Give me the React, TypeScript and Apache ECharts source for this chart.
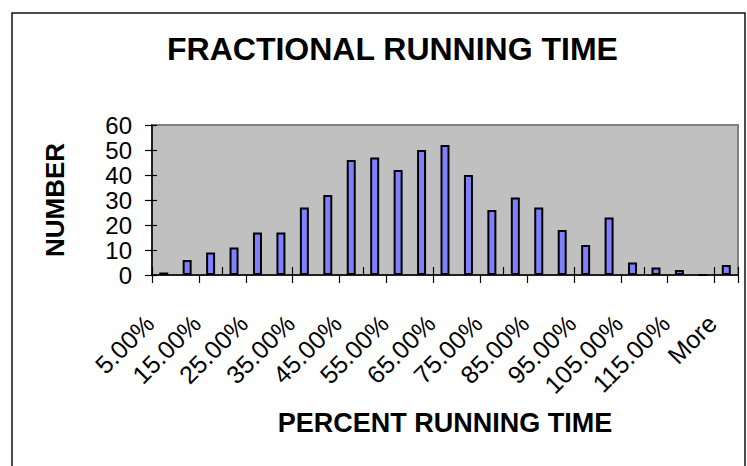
import React, { useEffect, useRef } from "react";
import * as echarts from "echarts";

const categories = [
  "5.00%", "10.00%", "15.00%", "20.00%", "25.00%", "30.00%", "35.00%", "40.00%",
  "45.00%", "50.00%", "55.00%", "60.00%", "65.00%", "70.00%", "75.00%", "80.00%",
  "85.00%", "90.00%", "95.00%", "100.00%", "105.00%", "110.00%", "115.00%", "120.00%", "More",
];
const counts = [1, 6, 9, 11, 17, 17, 27, 32, 46, 47, 42, 50, 52, 40, 26, 31, 27, 18, 12, 23, 5, 3, 2, 0, 4];
const yMin = 0;
const yMax = 60;
const yStep = 10;

const FONT = "'Liberation Sans', Arial, sans-serif";

export default function App() {
  const ref = useRef<HTMLDivElement>(null);
  useEffect(() => {
    if (!ref.current) return;
    const chart = echarts.init(ref.current, undefined, { renderer: "svg" });
    const baseX = {
      type: "category" as const,
      data: categories,
      position: "bottom" as const,
      boundaryGap: true,
    };
    const baseY = {
      type: "value" as const,
      min: yMin,
      max: yMax,
      interval: yStep,
      splitLine: { show: false },
      position: "left" as const,
    };
    chart.setOption({
      animation: false,
      backgroundColor: "#ffffff",
      title: {
        text: "FRACTIONAL RUNNING TIME",
        left: 162,
        top: 28,
        textStyle: { fontFamily: FONT, fontSize: 32, fontWeight: "bold", color: "#000" },
      },
      graphic: [
        {
          type: "rect",
          shape: { x: 12, y: 13, width: 733, height: 480 },
          style: { fill: "none", stroke: "#111", lineWidth: 1.5 },
          silent: true,
        },
      ],
      grid: {
        left: 152,
        right: 9,
        top: 125,
        bottom: 191,
        show: true,
        backgroundColor: "#C0C0C0",
        borderColor: "#808080",
        borderWidth: 2,
      },
      xAxis: [
        {
          ...baseX,
          name: "PERCENT RUNNING TIME",
          nameLocation: "middle",
          nameGap: 134,
          nameTextStyle: { fontFamily: FONT, fontSize: 27, fontWeight: "bold", color: "#000" },
          axisLine: { lineStyle: { color: "#000", width: 1.5 } },
          axisTick: { show: true, inside: false, length: 8, lineStyle: { color: "#000", width: 1.2 } },
          axisLabel: {
            interval: 1,
            rotate: 45,
            margin: 30,
            padding: [0, 20, 0, 0],
            fontFamily: FONT,
            fontSize: 25,
            color: "#000",
          },
        },
        {
          ...baseX,
          axisLine: { show: false },
          axisTick: { show: true, inside: true, length: 8, lineStyle: { color: "#000", width: 1.2 } },
          axisLabel: { show: false },
        },
      ],
      yAxis: [
        {
          ...baseY,
          name: "NUMBER",
          nameLocation: "middle",
          nameRotate: 90,
          nameGap: 84,
          nameTextStyle: { fontFamily: FONT, fontSize: 26, fontWeight: "bold", color: "#000" },
          axisLine: { show: true, lineStyle: { color: "#000", width: 1.5 } },
          axisTick: { show: true, inside: false, length: 7, lineStyle: { color: "#000", width: 1.2 } },
          axisLabel: { margin: 20, fontFamily: FONT, fontSize: 24, lineHeight: 24, color: "#000" },
        },
        {
          ...baseY,
          axisLine: { show: false },
          axisTick: { show: true, inside: true, length: 5, lineStyle: { color: "#000", width: 1.2 } },
          axisLabel: { show: false },
        },
      ],
      series: [
        {
          type: "bar",
          data: counts,
          xAxisIndex: 0,
          yAxisIndex: 0,
          barWidth: 9,
          itemStyle: { color: "#8080FF", borderColor: "#000", borderWidth: 2 },
        },
      ],
    });
    return () => chart.dispose();
  }, []);
  return (
    <div
      ref={ref}
      style={{ position: "absolute", left: 0, top: 0, width: 747, height: 466 }}
    />
  );
}
